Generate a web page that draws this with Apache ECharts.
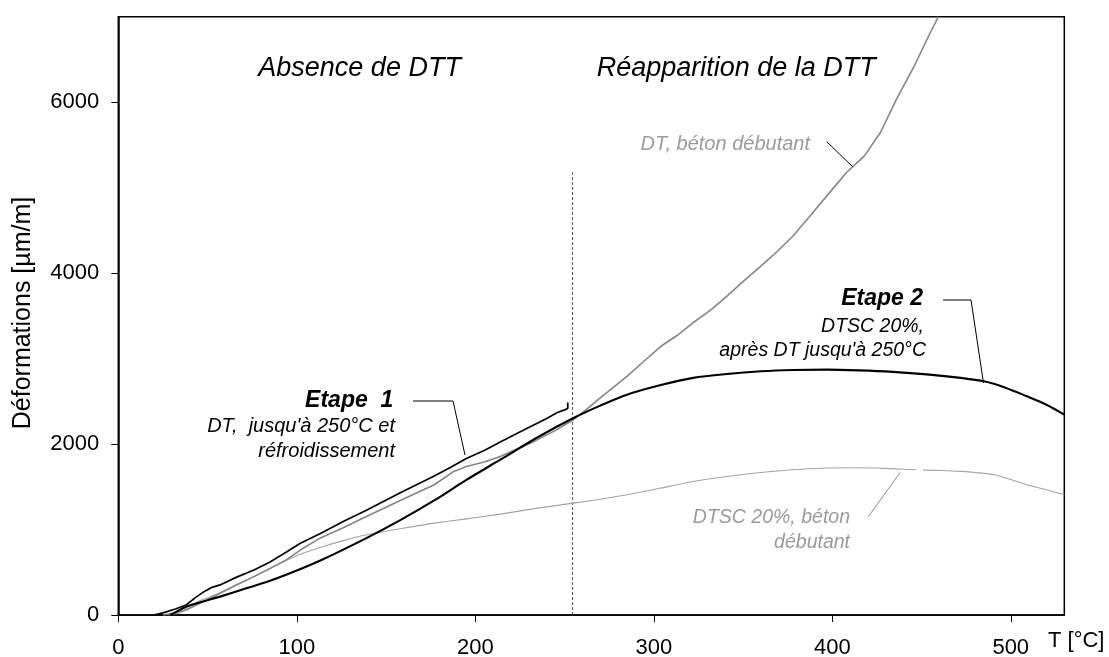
<!DOCTYPE html>
<html>
<head>
<meta charset="utf-8">
<script src="https://cdn.jsdelivr.net/npm/echarts@6/dist/echarts.min.js"></script>
<style>
  html, body { margin: 0; padding: 0; background: #fff; }
  #chart { width: 1109px; height: 657px; }
</style>
</head>
<body>
<div id="chart"></div>
<script>
// Temperature T [°C] and strain [µm/m] readings for each test
const dtBetonT = [25, 32, 38, 47, 57, 66, 76, 85, 94, 102, 113, 126, 139, 158, 177, 188, 195, 205, 214, 223, 233, 245, 255, 262, 270, 285, 294, 304, 313, 322, 332, 341, 350, 360, 369, 378, 388, 398, 408, 418, 427, 436, 446, 455, 459.5];
const dtBetonV = [0, 25, 59, 150, 254, 350, 449, 545, 645, 760, 899, 1020, 1152, 1340, 1524, 1680, 1738, 1790, 1855, 1940, 2031, 2160, 2285, 2400, 2540, 2793, 2960, 3144, 3270, 3419, 3570, 3730, 3900, 4082, 4250, 4434, 4680, 4930, 5177, 5372, 5645, 6036, 6426, 6818, 7000];

const dtscBetonT = [28, 35, 44, 57, 75, 91, 102, 113, 126, 139, 158, 177, 195, 214, 235, 255, 270, 285, 304, 322, 341, 360, 378, 397, 412, 425, 440, 447, 449, 451, 462, 472, 481, 491, 500, 509, 520, 530];
const dtscBetonV = [0, 30, 150, 260, 440, 606, 710, 790, 870, 938, 1010, 1075, 1125, 1180, 1250, 1309, 1355, 1406, 1485, 1562, 1620, 1668, 1700, 1719, 1722, 1719, 1705, 1700, null, 1695, 1690, 1680, 1665, 1641, 1585, 1524, 1465, 1406];

const etape1T = [20, 25, 32, 38, 43, 48, 52, 57, 66, 76, 85, 94, 102, 113, 126, 139, 158, 177, 186, 195, 205, 214, 223, 233, 240, 246, 250.4, 251.8, 251.8];
const etape1V = [0, 25, 70, 117, 200, 273, 320, 352, 440, 527, 620, 735, 840, 950, 1095, 1225, 1430, 1625, 1725, 1830, 1925, 2025, 2120, 2225, 2300, 2370, 2403, 2415, 2485];

const etape2T = [29, 31, 38, 48, 57, 70, 85, 100, 115, 139, 158, 177, 195, 214, 235, 255, 270, 285, 304, 322, 341, 360, 378, 397, 415, 434, 453, 472, 485, 497, 509, 520, 530];
const etape2V = [0, 20, 97, 160, 215, 300, 400, 520, 655, 900, 1110, 1340, 1580, 1817, 2080, 2305, 2450, 2578, 2690, 2774, 2820, 2851, 2866, 2871, 2862, 2844, 2815, 2774, 2734, 2660, 2559, 2460, 2344];

// Boundary between the two regimes
const dividerT = [254.5, 254.5];
const dividerV = [0, 5180];

// Axis ticks
const xTicks = [0, 100, 200, 300, 400, 500];
const yTicks = [0, 2000, 4000, 6000];

const zip = (xs, ys) => xs.map((x, i) => [x, ys[i]]);

const FONT = '"Liberation Sans", Arial, sans-serif';
const GRAY_TXT = '#9a9a9a';

function txt(text, x, y, size, opts) {
  opts = opts || {};
  return {
    type: 'text', x: x, y: y, silent: true, z: 10,
    style: {
      text: text,
      fontStyle: opts.italic === false ? 'normal' : 'italic',
      fontWeight: opts.weight || 'normal',
      fontSize: size,
      fontFamily: FONT,
      fill: opts.color || '#000',
      align: opts.align || 'right',
      verticalAlign: 'middle'
    }
  };
}

function leader(points, color) {
  return {
    type: 'polyline', silent: true, z: 10,
    shape: { points: points },
    style: { stroke: color || '#000', lineWidth: 1, fill: null }
  };
}

const chart = echarts.init(document.getElementById('chart'), null, { renderer: 'canvas' });

chart.setOption({
  animation: false,
  backgroundColor: '#fff',
  grid: {
    left: 118.3, top: 16.7, right: 44.7, bottom: 42,
    outerBoundsMode: 'none', containLabel: false,
    show: true, borderColor: '#000', borderWidth: 1.5, backgroundColor: 'transparent'
  },
  xAxis: {
    type: 'value', min: 0, max: 530, interval: 100,
    axisLine: { show: true, onZero: false, lineStyle: { color: '#000', width: 1.5 } },
    axisTick: { show: true, length: 7, customValues: xTicks, lineStyle: { color: '#000', width: 1 } },
    axisLabel: { customValues: xTicks, fontSize: 22, color: '#000', fontFamily: FONT, margin: 22,
      formatter: v => String(v) },
    splitLine: { show: false }
  },
  yAxis: {
    type: 'value', min: 0, max: 7000, interval: 1000,
    axisLine: { show: true, onZero: false, lineStyle: { color: '#000', width: 1.5 } },
    axisTick: { show: true, length: 7, customValues: yTicks, lineStyle: { color: '#000', width: 1 } },
    axisLabel: { customValues: yTicks, fontSize: 22, color: '#000', fontFamily: FONT, margin: 19,
      formatter: v => String(v) },
    splitLine: { show: false }
  },
  series: [
    {
      name: 'Séparation', type: 'line', data: zip(dividerT, dividerV), showSymbol: false, silent: true,
      lineStyle: { color: '#555', width: 1, type: [3, 2] }, z: 1
    },
    {
      name: 'DTSC 20%, béton débutant', type: 'line', data: zip(dtscBetonT, dtscBetonV), showSymbol: false,
      connectNulls: false, smooth: 0.2, lineStyle: { color: '#a3a3a3', width: 1.1 }, z: 2
    },
    {
      name: 'DT, béton débutant', type: 'line', data: zip(dtBetonT, dtBetonV), showSymbol: false,
      lineStyle: { color: '#858585', width: 1.6 }, z: 3
    },
    {
      name: 'Etape 1', type: 'line', data: zip(etape1T, etape1V), showSymbol: false,
      lineStyle: { color: '#000', width: 1.7 }, z: 4
    },
    {
      name: 'Etape 2', type: 'line', data: zip(etape2T, etape2V), showSymbol: false, smooth: 0.3,
      lineStyle: { color: '#000', width: 2.1 }, z: 5
    }
  ],
  graphic: [
    // axis titles
    {
      type: 'text', x: 23, y: 313, rotation: Math.PI / 2, silent: true,
      style: { text: 'Déformations [µm/m]', fontSize: 25, fontFamily: FONT, fill: '#000', align: 'center', verticalAlign: 'middle' }
    },
    {
      type: 'text', x: 1048, y: 641, silent: true,
      style: { text: 'T [°C]', fontSize: 22, fontFamily: FONT, fill: '#000', align: 'left', verticalAlign: 'middle' }
    },
    // regime headings
    txt('Absence de DTT', 258.3, 68.6, 27, { align: 'left' }),
    txt('Réapparition de la DTT', 596.7, 68.3, 27, { align: 'left' }),
    // Etape 1
    txt('Etape  1', 393.3, 400.8, 23, { weight: 'bold' }),
    txt('DT,  jusqu\'à 250°C et', 395, 426.1, 20),
    txt('réfroidissement', 395, 451.1, 20),
    leader([[413, 401], [453, 401], [465, 455]]),
    // Etape 2
    txt('Etape 2', 923, 299, 23, { weight: 'bold' }),
    txt('DTSC 20%,', 924, 326.5, 19.5),
    txt('après DT jusqu\'à 250°C', 926, 350.5, 19.5),
    leader([[943, 300], [971, 300], [983.5, 383]]),
    // reference concrete
    txt('DT, béton débutant', 810, 144.5, 20, { color: GRAY_TXT }),
    leader([[826.7, 141.7], [852.7, 166.7]]),
    txt('DTSC 20%, béton', 850, 518, 19.5, { color: GRAY_TXT }),
    txt('débutant', 850, 543, 19.5, { color: GRAY_TXT }),
    leader([[868.3, 516.7], [900, 472.7]], '#8a8a8a')
  ]
});
</script>
</body>
</html>
